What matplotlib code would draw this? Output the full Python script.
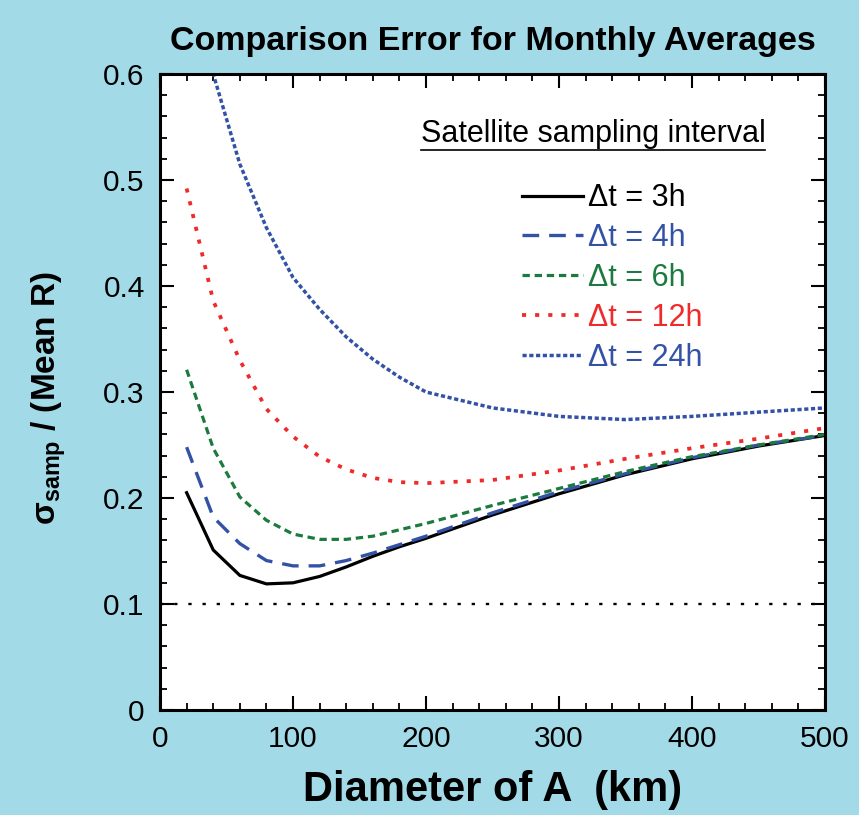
import matplotlib
matplotlib.use("Agg")
import matplotlib.pyplot as plt
from matplotlib.ticker import MultipleLocator, FuncFormatter
from matplotlib.lines import Line2D

plt.rcParams['font.family'] = ['Liberation Sans', 'DejaVu Sans']
plt.rcParams['mathtext.fontset'] = 'custom'
plt.rcParams['mathtext.rm'] = 'Liberation Sans'
plt.rcParams['mathtext.it'] = 'Liberation Sans'
plt.rcParams['mathtext.bf'] = 'Liberation Sans:bold'
plt.rcParams['mathtext.default'] = 'regular'

# ---- data ----
diameter_km = [20, 40, 60, 80, 100, 120, 140, 160, 180, 200, 250, 300, 350, 400, 450, 500]
err_3h = [0.205, 0.151, 0.127, 0.119, 0.120, 0.126, 0.135, 0.145, 0.154, 0.162, 0.184, 0.204, 0.222, 0.237, 0.249, 0.259]
err_4h = [0.248, 0.182, 0.157, 0.141, 0.136, 0.136, 0.141, 0.148, 0.156, 0.164, 0.186, 0.206, 0.223, 0.238, 0.250, 0.259]
err_6h = [0.321, 0.247, 0.201, 0.179, 0.166, 0.161, 0.161, 0.164, 0.170, 0.176, 0.193, 0.209, 0.225, 0.239, 0.250, 0.260]
err_12h = [0.492, 0.386, 0.330, 0.284, 0.258, 0.239, 0.227, 0.219, 0.215, 0.214, 0.217, 0.226, 0.237, 0.247, 0.256, 0.266]
err_24h = [0.780, 0.600, 0.515, 0.455, 0.408, 0.378, 0.352, 0.331, 0.314, 0.300, 0.285, 0.277, 0.274, 0.277, 0.281, 0.285]
series_labels = ['Δt = 3h', 'Δt = 4h', 'Δt = 6h', 'Δt = 12h', 'Δt = 24h']
ref_level = 0.1

title = 'Comparison Error for Monthly Averages'
xlabel = 'Diameter of A  (km)'
ylabel = r'$\sigma_{\mathbf{samp}}$ / (Mean R)'
legend_title = 'Satellite sampling interval'

BG = '#A3DAE7'
BLUE = '#3352A6'
GREEN = '#1B7A3E'
RED = '#EE2A2B'

fig = plt.figure(figsize=(8.59, 8.15), dpi=100, facecolor=BG)
ax = fig.add_axes([0.1863, 0.1288, 0.7741, 0.7804])
ax.set_facecolor('white')

styles = [
    dict(color='black', lw=2.3, ls='-'),
    dict(color=BLUE, lw=2.4, ls=(0, (5.0, 3.0))),
    dict(color=GREEN, lw=2.3, ls=(0, (2.3, 1.5))),
    dict(color=RED, lw=2.7, ls=(0, (1.1, 2.4))),
    dict(color=BLUE, lw=2.5, ls=(0, (1.2, 0.75))),
]
series = [err_3h, err_4h, err_6h, err_12h, err_24h]
handles = []
for ys, lab, st in zip(series, series_labels, styles):
    h, = ax.plot(diameter_km, ys, label=lab, **st)
    handles.append(h)

ax.axhline(ref_level, color='black', lw=1.7, ls=(0, (1.4, 4.6)))

ax.set_xlim(0, 500)
ax.set_ylim(0, 0.6)
ax.xaxis.set_major_locator(MultipleLocator(100))
ax.xaxis.set_minor_locator(MultipleLocator(20))
ax.yaxis.set_major_locator(MultipleLocator(0.1))
ax.yaxis.set_minor_locator(MultipleLocator(0.02))
ax.yaxis.set_major_formatter(FuncFormatter(lambda v, p: '0' if abs(v) < 1e-9 else f'{v:.1f}'))

ax.tick_params(which='major', direction='in', top=True, right=True, length=10, width=1.5, labelsize=21.5)
ax.tick_params(which='minor', direction='in', top=True, right=True, length=5, width=1.3)
ax.tick_params(axis='x', which='major', pad=11)
ax.tick_params(axis='y', which='major', pad=11)
for sp in ax.spines.values():
    sp.set_linewidth(2.2)

ax.set_xlabel(xlabel, fontsize=30, fontweight='bold', labelpad=12)
ax.set_ylabel(ylabel, fontsize=24, fontweight='bold')
ax.yaxis.set_label_coords(-0.138, 0.49)
ax.set_title(title, fontsize=24.5, fontweight='bold', pad=17)

leg = ax.legend(handles=handles, loc='upper left', bbox_to_anchor=(0.544, 0.828),
                frameon=False, fontsize=22, handlelength=2.0, handletextpad=0.18,
                labelspacing=0.32, borderpad=0, borderaxespad=0, labelcolor='linecolor')

t = ax.text(0.651, 0.905, legend_title, transform=ax.transAxes, ha='center', va='center', fontsize=22)
fig.canvas.draw()
bb = t.get_window_extent()
inv = ax.transAxes.inverted()
(x0, y0), (x1, y1) = inv.transform([(bb.x0, bb.y0 - 1), (bb.x1, bb.y0 - 1)])
ax.add_line(Line2D([x0, x1], [y0, y1], transform=ax.transAxes, color='black', lw=1.2))

fig.savefig('out.png', dpi=100, facecolor=BG)
